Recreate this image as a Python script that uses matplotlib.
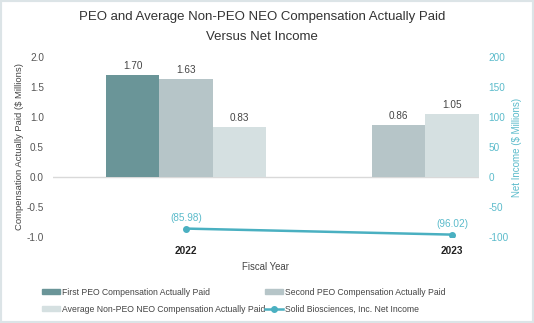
import matplotlib
matplotlib.use("Agg")
import matplotlib.pyplot as plt
from matplotlib.patches import Rectangle, Patch
from matplotlib.lines import Line2D
import numpy as np

plt.rcParams['font.family'] = ['Liberation Sans', 'DejaVu Sans']
plt.rcParams['axes.unicode_minus'] = False

years = ["2022", "2023"]
series_names = ["First PEO Compensation Actually Paid",
                "Second PEO Compensation Actually Paid",
                "Average Non-PEO NEO Compensation Actually Paid"]
first_peo = [1.70, None]
second_peo = [1.63, 0.86]
avg_non_peo = [0.83, 1.05]
net_income = [-85.98, -96.02]
net_income_name = "Solid Biosciences, Inc. Net Income"

colors = ["#6A9598", "#B6C5C8", "#D5E0E1"]
line_color = "#4AB0C1"
teal_text = "#5BBBCB"
gray_text = "#555555"

W, H = 534, 323
fig = plt.figure(figsize=(W/100, H/100), dpi=100)
fig.patch.set_facecolor("white")
fig.add_artist(Rectangle((0, 0), 1, 1, transform=fig.transFigure, fill=False,
                         edgecolor="#DCE4E7", linewidth=3))

L, R, T, B = 53, 479, 57, 237
ax = fig.add_axes([L/W, 1-B/H, (R-L)/W, (B-T)/H])
ax2 = ax.twinx()

width = 0.2
x = np.arange(len(years))
all_series = [first_peo, second_peo, avg_non_peo]
for ci in range(len(years)):
    k = 0
    for si, s in enumerate(all_series):
        v = s[ci]
        if v is None:
            continue
        pos = x[ci] - width + k*width
        ax.bar(pos, v, width=width, color=colors[si], zorder=2)
        ax.text(pos, v + 0.07, f"{v:.2f}", ha="center", va="bottom",
                fontsize=7.2, color="#444444")
        k += 1

ax.set_ylim(-1.0, 2.0)
ax.set_yticks([-1.0, -0.5, 0.0, 0.5, 1.0, 1.5, 2.0])
ax.set_yticklabels(["-1.0", "-0.5", "0.0", "0.5", "1.0", "1.5", "2.0"])
ax.set_xlim(-0.5, 1.1015)
ax.axhline(0, color="#D9D9D9", linewidth=1, zorder=1)
ax.set_xticks(x)
ax.set_xticklabels(years, fontweight="bold", fontsize=7.2, color="#222222")
ax.tick_params(axis="x", length=0, pad=6.5)
ax.tick_params(axis="y", length=0, labelsize=7.2, labelcolor=gray_text, pad=6.5)
ax.set_ylabel("Compensation Actually Paid ($ Millions)", fontsize=6.8, color="#444444", labelpad=2)
ax.set_xlabel("Fiscal Year", fontsize=6.9, color="#444444", labelpad=4.5)

ax2.plot(x, net_income, color=line_color, linewidth=1.8, marker="o", markersize=4, zorder=3)
for xi, v in zip(x, net_income):
    ax2.text(xi, v + 10, f"({abs(v):.2f})", ha="center", va="bottom",
             fontsize=7.2, color=teal_text)
ax2.set_ylim(-100, 200)
ax2.set_yticks([-100, -50, 0, 50, 100, 150, 200])
ax2.tick_params(axis="y", length=0, labelsize=7.2, labelcolor=teal_text, pad=7)
ax2.set_ylabel("Net Income ($ Millions)", fontsize=7.0, color=teal_text, labelpad=2)

for a in (ax, ax2):
    for sp in a.spines.values():
        sp.set_visible(False)

fig.text(262/W, 1-17/H, "PEO and Average Non-PEO NEO Compensation Actually Paid",
         ha="center", va="center", fontsize=9.5, color="#333333")
fig.text(262/W, 1-37/H, "Versus Net Income", ha="center", va="center",
         fontsize=9.5, color="#333333")

handles = [Patch(color=colors[0]), Patch(color=colors[2]),
           Patch(color=colors[1]),
           Line2D([0], [0], color=line_color, linewidth=1.8, marker="o", markersize=4)]
labels = [series_names[0], series_names[2], series_names[1], net_income_name]
leg = fig.legend(handles, labels, ncol=2, loc="upper left",
                 bbox_to_anchor=(34/W, 1-280/H), frameon=False, fontsize=6.2,
                 handlelength=2.1, handleheight=0.5, handletextpad=0.2,
                 columnspacing=0.05, labelspacing=0.95, labelcolor="#444444")

fig.savefig("out.png", dpi=100)
